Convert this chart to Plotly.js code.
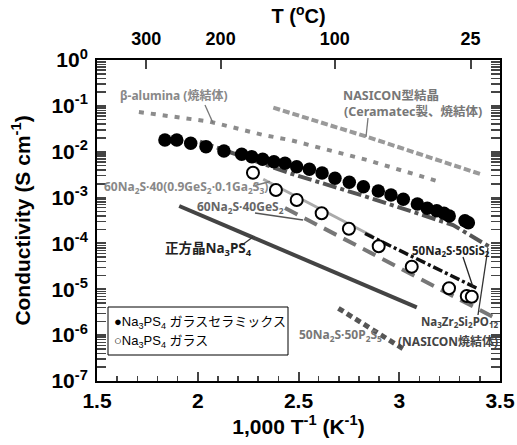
<!DOCTYPE html>
<html><head><meta charset="utf-8">
<script src="https://cdn.plot.ly/plotly-3.0.1.min.js"></script>
<style>html,body{margin:0;padding:0;background:#fff}#chart{width:517px;height:445px}</style>
</head><body><div id="chart"></div><script>
// ---- data ----
const ceramicX = [1.837,1.896,1.965,2.041,2.130,2.218,2.268,2.322,2.378,2.433,2.491,2.554,2.617,2.681,2.752,2.822,2.896,2.959,3.020,3.090,3.139,3.186,3.222,3.248,3.326,3.343];
const ceramicY = [1.80e-2,1.80e-2,1.53e-2,1.29e-2,1.04e-2,8.79e-3,7.78e-3,6.84e-3,6.05e-3,5.58e-3,4.71e-3,4.14e-3,3.44e-3,2.63e-3,2.15e-3,1.73e-3,1.39e-3,1.14e-3,9.18e-4,7.24e-4,5.83e-4,5.18e-4,4.54e-4,3.96e-4,3.13e-4,2.83e-4];
const glassX = [2.274,2.388,2.491,2.615,2.750,2.898,3.062,3.247,3.335,3.360];
const glassY = [3.49e-3,1.46e-3,8.85e-4,4.54e-4,2.09e-4,8.67e-5,3.11e-5,1.05e-5,7.14e-6,6.90e-6];
const betaAluminaX = [1.708,2.061,2.324,2.458,2.840,3.187];
const betaAluminaY = [7.35e-2,4.52e-2,2.32e-2,1.80e-2,6.59e-3,2.30e-3];
const nasiconCeramatecX = [2.375,2.838,3.401];
const nasiconCeramatecY = [9.12e-2,2.13e-2,3.27e-3];
const nasiconSinterX = [2.011,2.458,2.838,3.267,3.450];
const nasiconSinterY = [1.66e-2,3.38e-3,1.04e-3,2.52e-4,8.36e-5];
const geGaX = [2.325,2.865];
const geGaY = [2.51e-3,1.45e-4];
const sisX = [2.830,3.386];
const sisY = [1.65e-4,1.05e-5];
const gesX = [2.433,3.475];
const gesY = [5.93e-4,2.37e-6];
const tetraX = [1.908,3.087];
const tetraY = [6.55e-4,4.05e-6];
const p2s5X = [2.698,3.029];
const p2s5Y = [3.85e-6,4.74e-7];
const xTickVals = [1.5,2,2.5,3,3.5];
const xTickText = ['1.5','2','2.5','3','3.5'];
const topTempC = [300,200,100,25];
const topTickText = ['300','200','100','25'];
const yTickExp = [0,-1,-2,-3,-4,-5,-6,-7];
// ---- end data ----

const F = '"Liberation Sans", Arial, "Noto Sans CJK JP", sans-serif';
const FN = '"Noto Sans", "Liberation Sans", "Noto Sans CJK JP", sans-serif';
const yTickVals = yTickExp.map(e => Math.pow(10, e));
const yTickText = yTickExp.map(e => '10<sup>' + e + '</sup>');
const topTickPos = topTempC.map(t => 1000 / (t + 273.15));

function line(x, y, color, width, dash) {
  return {x, y, type:'scatter', mode:'lines', line:{color, width, dash}, hoverinfo:'skip', showlegend:false};
}
const traces = [
  line(betaAluminaX, betaAluminaY, '#8c8c8c', 4, '5px,7px'),
  line(nasiconCeramatecX, nasiconCeramatecY, '#9a9a9a', 4, '7px,3px'),
  line(nasiconSinterX, nasiconSinterY, '#555555', 4, '14px,4px,4px,4px'),
  line(geGaX, geGaY, '#aaaaaa', 3, 'solid'),
  line(sisX, sisY, '#111111', 3.5, '10px,3px,3px,3px'),
  line(gesX, gesY, '#777777', 4, '14px,8px'),
  line(tetraX, tetraY, '#444444', 4, 'solid'),
  line(p2s5X, p2s5Y, '#555555', 5, '6px,4px'),
  {x:ceramicX, y:ceramicY, type:'scatter', mode:'markers', marker:{symbol:'circle', size:13.5, color:'#000'}, showlegend:false},
  {x:glassX, y:glassY, type:'scatter', mode:'markers', marker:{symbol:'circle', size:12, color:'#fff', line:{color:'#000', width:2}}, showlegend:false},
  {x:topTickPos, y:topTickPos.map(()=>null), xaxis:'x2', type:'scatter', mode:'markers', showlegend:false, hoverinfo:'skip'}
];

// pixel -> paper helpers (for label positions only)
const L = 97, R = 500, T0 = 60, B = 381;
const px = v => (v - L) / (R - L);
const py = v => (B - v) / (B - T0);

function label(x, y, text, color, size, anchor, font, weight) {
  return {xref:'paper', yref:'paper', x:px(x), y:py(y), text, showarrow:false, xanchor:anchor||'left', yanchor:'middle',
          font:{family:font||FN, size:size||12, color, weight:weight||'bold', stretch:font ? 'normal' : 'condensed'}};
}
function leader(x0, y0, x1, y1, color) {
  return {type:'line', xref:'paper', yref:'paper', x0:px(x0), y0:py(y0), x1:px(x1), y1:py(y1), line:{color:color||'#666', width:1.3}};
}

const annotations = [
  label(174, 95, 'β-alumina (焼結体)', '#888', 12, 'center'),
  label(341, 95, 'NASICON型結晶', '#777', 12.5),
  label(342, 111, '(Ceramatec製、焼結体)', '#777', 12.5),
  label(102, 187, '60Na<sub>2</sub>S·40(0.9GeS<sub>2</sub>·0.1Ga<sub>2</sub>S<sub>3</sub>)', '#888', 12),
  label(195, 207, '60Na<sub>2</sub>S·40GeS<sub>2</sub>', '#666', 12),
  label(163, 249, '正方晶Na<sub>3</sub>PS<sub>4</sub>', '#222', 13.5),
  label(410, 251, '50Na<sub>2</sub>S·50SiS<sub>2</sub>', '#222', 11.5),
  label(460, 322, 'Na<sub>3</sub>Zr<sub>2</sub>Si<sub>2</sub>PO<sub>12</sub>', '#444', 11.5, 'center'),
  label(448, 341, '(NASICON焼結体)', '#444', 12, 'center'),
  label(297, 335, '50Na<sub>2</sub>S·50P<sub>2</sub>S<sub>5</sub>', '#777', 12),
  label(112, 322, '●Na<sub>3</sub>PS<sub>4</sub> ガラスセラミックス', '#000', 13, 'left', F, 'normal'),
  label(112, 341, '○Na<sub>3</sub>PS<sub>4</sub> ガラス', '#000', 13, 'left', F, 'normal')
];

const shapes = [
  {type:'rect', xref:'paper', yref:'paper', x0:px(108), x1:px(288), y0:py(307), y1:py(355), line:{color:'#000', width:1}, fillcolor:'#fff', layer:'below'},
  leader(205,105,213,123,'#777'),
  leader(368,118,366,137,'#777'),
  leader(253,186,270,181.5,'#777'),
  leader(255,213,303,220,'#555'),
  leader(242,245,253,237,'#333'),
  leader(463,257,473,287,'#222'),
  leader(478,315,488,248,'#333')
];

const layout = {
  width:517, height:445,
  margin:{l:L, r:517-R, t:T0, b:445-B},
  paper_bgcolor:'#fff', plot_bgcolor:'rgba(0,0,0,0)',
  showlegend:false,
  font:{family:F, size:20, color:'#000', weight:'bold'},
  xaxis:{range:[1.5,3.5], tickmode:'array', tickvals:xTickVals, ticktext:xTickText, ticks:'inside', ticklen:9, tickwidth:2,
    minor:{dtick:0.1, ticks:'inside', ticklen:5, tickwidth:1.5, showgrid:false},
    showline:true, linewidth:2, linecolor:'#000', mirror:true, showgrid:false, zeroline:false,
    tickfont:{family:F, size:21, weight:'bold'},
    title:{text:'1,000 T<sup>-1</sup> (K<sup>-1</sup>)', font:{family:F, size:21, weight:'bold'}, standoff:6}},
  xaxis2:{overlaying:'x', side:'top', anchor:'y', range:[1.5,3.5], tickmode:'array', tickvals:topTickPos, ticktext:topTickText,
    ticks:'inside', ticklen:9, tickwidth:2, showline:false, showgrid:false, zeroline:false, ticklabelstandoff:10,
    tickfont:{family:F, size:18, weight:'bold'},
    title:{text:'T (<sup>o</sup>C)', font:{family:F, size:20, weight:'bold'}, standoff:0}},
  yaxis:{type:'log', range:[-7,0], tickmode:'array', tickvals:yTickVals, ticktext:yTickText, ticks:'inside', ticklen:9, tickwidth:2,
    minor:{dtick:'D1', ticks:'inside', ticklen:5, tickwidth:1.5, showgrid:false},
    showline:true, linewidth:2, linecolor:'#000', mirror:'allticks', showgrid:false, zeroline:false, ticklabelstandoff:3,
    tickfont:{family:F, size:21, weight:'bold'},
    title:{text:'Conductivity (S cm<sup>-1</sup>)', font:{family:F, size:21, weight:'bold'}, standoff:15}},
  annotations, shapes
};

Plotly.newPlot('chart', traces, layout, {displayModeBar:false, staticPlot:true});
</script></body></html>
